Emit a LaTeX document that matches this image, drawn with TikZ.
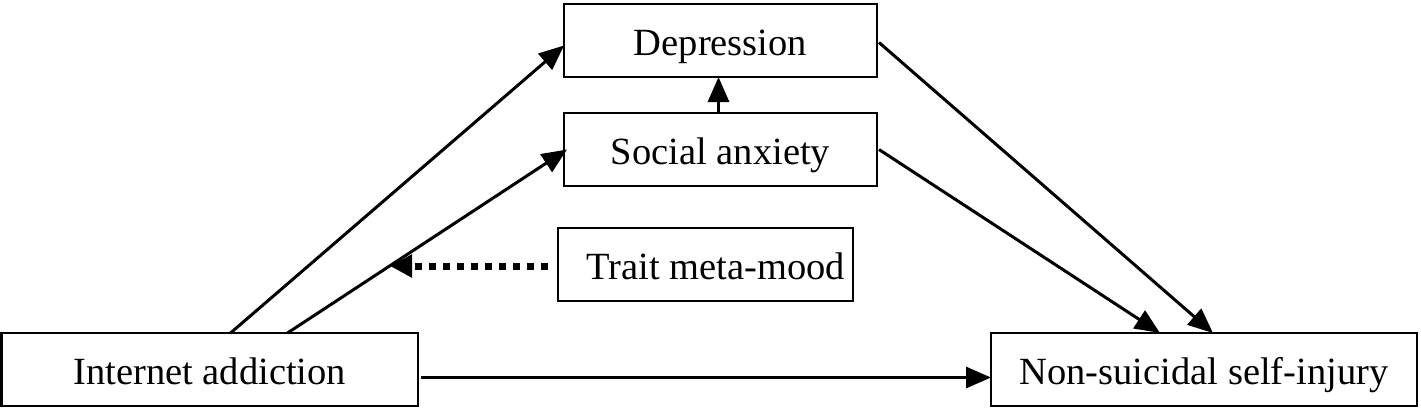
\documentclass[tikz,border=0pt]{standalone}
\usepackage{fontspec}
\setmainfont{Liberation Serif}
\usetikzlibrary{arrows.meta}
\begin{document}
\begin{tikzpicture}[x=1pt,y=-1pt,
  box/.style={draw,line width=2.5pt,minimum height=73pt,inner sep=0pt,outer sep=0pt,text height=33pt,text depth=4pt,font=\fontsize{38.5}{46}\selectfont},
  conn/.style={line width=3pt,-{Triangle[length=25pt,width=21pt]}},
  dotconn/.style={line width=7pt,dash pattern=on 7pt off 7pt,-{Triangle[length=22pt,width=22pt]}}]
\useasboundingbox (0,0) rectangle (1421,408);
\node[box,minimum width=313pt] (dep) at (720.5,40.5) {Depression};
\node[box,minimum width=313pt] (sa) at (720.5,149.5) {Social anxiety};
\node[box,minimum width=295pt] (tmm) at (705.5,264.5) {\hspace*{21pt}Trait meta-mood};
\node[box,minimum width=416.5pt] (ia) at (209.75,369.5) {Internet addiction};
\node[box,minimum width=426pt] (nssi) at (1204,369.5) {Non-suicidal self-injury};
\coordinate (mod) at (390,266);
\draw[conn] ([xshift=229pt]ia.north west) -- ([yshift=-5pt]dep.west);
\draw[conn] ([xshift=286pt]ia.north west) -- ([xshift=3pt]sa.west);
\draw[conn] ([xshift=-2pt]sa.north) -- ([xshift=-2pt]dep.south);
\draw[conn] ([xshift=2pt,yshift=-2pt]dep.east) -- ([xshift=222pt]nssi.north west);
\draw[conn] ([xshift=2pt]sa.east) -- ([xshift=169pt]nssi.north west);
\draw[conn] ([xshift=3pt,yshift=-8pt]ia.east) -- ([yshift=-8pt]nssi.west);
\draw[dotconn] ([xshift=-10pt,yshift=-1.5pt]tmm.west) -- (mod);
\end{tikzpicture}
\end{document}
